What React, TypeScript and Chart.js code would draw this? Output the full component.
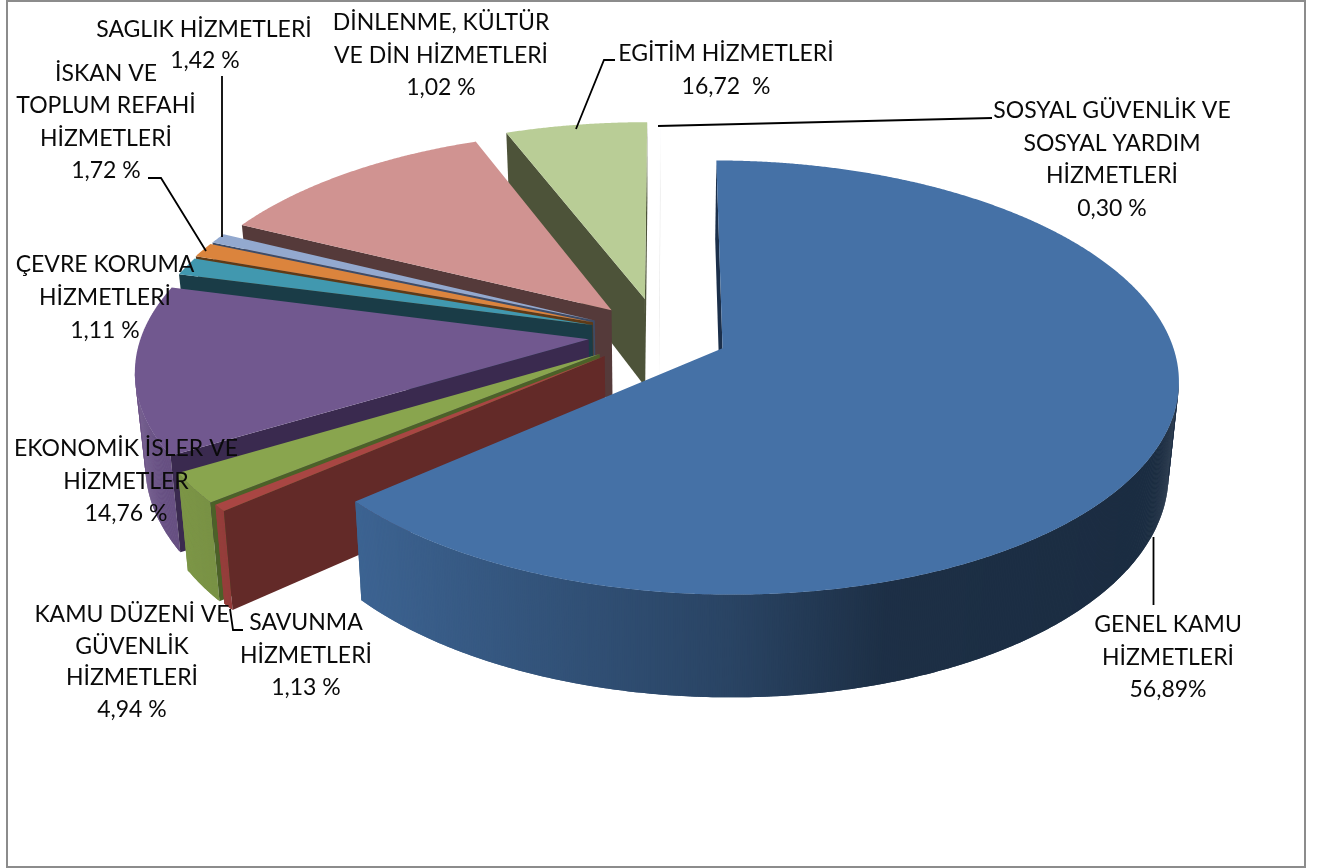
import React, { useEffect, useRef } from "react";
import { Chart, registerables } from "chart.js";

Chart.register(...registerables);

// Slice names, in drawing order round the pie
const categories = [
  "GENEL KAMU HİZMETLERİ",
  "SAVUNMA HİZMETLERİ",
  "KAMU DÜZENİ VE GÜVENLİK HİZMETLERİ",
  "EKONOMİK İSLER VE HİZMETLER",
  "ÇEVRE KORUMA HİZMETLERİ",
  "İSKAN VE TOPLUM REFAHİ HİZMETLERİ",
  "SAGLIK HİZMETLERİ",
  "DİNLENME, KÜLTÜR VE DİN HİZMETLERİ",
  "EGİTİM HİZMETLERİ",
  "SOSYAL GÜVENLİK VE SOSYAL YARDIM HİZMETLERİ",
];

// Slice sizes as they appear in the picture (share of the circle, %)
const sliceShares = [63.56, 0.5, 2.28, 12.69, 1.36, 1.11, 0.78, 11.81, 5.89, 0.03];

// Explosion of every slice (px on the library's 300px radius)
const sliceOffsets = [46.5, 47, 48, 47.5, 47, 48, 48, 48, 53, 48];

const topColors = ["#4571A6", "#A94643", "#89A54E", "#71588F", "#4198AF", "#DB843D", "#93A9CF", "#D09391", "#B9CD96", "#FDFDFF"];
const cutColors = ["#1B2F4A", "#632A28", "#4C6128", "#3A2A4F", "#1A3C47", "#5E3A17", "#3D4C68", "#553A3A", "#4D5339", "#E4E4E4"];

// Printed labels
const labelLines = [
  ["GENEL KAMU", "HİZMETLERİ", "56,89%"],
  ["SAVUNMA", "HİZMETLERİ", "1,13 %"],
  ["KAMU DÜZENİ VE", "GÜVENLİK", "HİZMETLERİ", "4,94 %"],
  ["EKONOMİK İSLER VE", "HİZMETLER", "14,76 %"],
  ["ÇEVRE KORUMA", "HİZMETLERİ", "1,11 %"],
  ["İSKAN VE", "TOPLUM REFAHİ", "HİZMETLERİ", "1,72 %"],
  ["SAGLIK HİZMETLERİ"],
  ["DİNLENME, KÜLTÜR", "VE DİN HİZMETLERİ", "1,02 %"],
  ["EGİTİM HİZMETLERİ", "16,72  %"],
  ["SOSYAL GÜVENLİK VE", "SOSYAL YARDIM", "HİZMETLERİ", "0,30 %"],
];
const extraLabel = { text: "1,42 %", x: 205, y: 68 };
const labelAnchors = [
  [1168, 632], [306, 630], [132, 622], [126, 456], [105, 272],
  [106, 81], [204, 37], [441, 30], [726, 61], [1112, 118],
];
const labelGaps = [32.5, 32.5, 31.7, 32.5, 33, 32.3, 32, 32.5, 33, 32.7];

const leaderLines = [
  [[1153.5, 537], [1153.5, 605]],
  [[230, 609], [233, 630], [243, 630]],
  [[148, 178], [161, 178], [206, 251]],
  [[222, 76], [222, 237]],
  [[576, 129], [604, 60], [615, 60]],
  [[658, 126], [992, 118]],
];

// Look of the tilted pie
const B = 447, A = 209.4, K = 0.1343, SHRINK = 0.98;
const paintOrder = [9, 8, 7, 6, 5, 4, 3, 2, 1, 0];

function project(x0: number, y0: number, u: number, v: number) {
  const w = 1 - K * v;
  return [x0 + (B * u) / w, y0 + (A * v) / w];
}
function projectBase(x0: number, y0: number, u: number, v: number) {
  const [x, y] = project(x0, y0, u, v);
  return [x0 + SHRINK * (x - x0), y + 90 + 12 * v];
}
function rimLight(c: number) {
  const xs = [-1, -0.7, 0, 0.3, 1];
  const ys = [0.95, 0.86, 0.6, 0.42, 0.39];
  for (let i = 1; i < xs.length; i++) {
    if (c <= xs[i]) return ys[i - 1] + ((c - xs[i - 1]) / (xs[i] - xs[i - 1])) * (ys[i] - ys[i - 1]);
  }
  return ys[ys.length - 1];
}
function shade(hex: string, f: number) {
  const n = parseInt(hex.slice(1), 16);
  const r = Math.round(((n >> 16) & 255) * f), g = Math.round(((n >> 8) & 255) * f), b = Math.round((n & 255) * f);
  return `rgb(${r},${g},${b})`;
}
function poly(ctx: CanvasRenderingContext2D, pts: number[][]) {
  ctx.beginPath();
  pts.forEach((p, i) => (i ? ctx.lineTo(p[0], p[1]) : ctx.moveTo(p[0], p[1])));
  ctx.closePath();
}
function leavesFace(from: number[], to: number[], inward: number[]) {
  const dx = to[0] - from[0], dy = to[1] - from[1];
  const crossDown = dx * 1;
  const crossIn = dx * (inward[1] - from[1]) - dy * (inward[0] - from[0]);
  return crossDown * crossIn < 0;
}

const tiltedPie = {
  id: "tiltedPie",
  beforeDatasetsDraw(chart: any) {
    const ctx: CanvasRenderingContext2D = chart.ctx;
    const arcs = chart.getDatasetMeta(0).data;
    ctx.save();
    ctx.fillStyle = "#ffffff";
    ctx.fillRect(0, 0, chart.width, chart.height);

    paintOrder.forEach((idx) => {
      const arc = arcs[idx];
      const { x: x0, y: y0, startAngle: a0, endAngle: a1, outerRadius: R } = arc;
      const mid = (a0 + a1) / 2;
      const e = (arc.options.offset || 0) / R;
      const cu = e * Math.cos(mid), cv = e * Math.sin(mid);
      const n = Math.max(4, Math.ceil(((a1 - a0) * 180 * 4) / Math.PI));
      const rim: number[][] = [];
      for (let i = 0; i <= n; i++) {
        const a = a0 + ((a1 - a0) * i) / n;
        rim.push([cu + Math.cos(a), cv + Math.sin(a), a]);
      }
      const topRim = rim.map((p) => project(x0, y0, p[0], p[1]));
      const baseRim = rim.map((p) => projectBase(x0, y0, p[0], p[1]));
      const apexTop = project(x0, y0, cu, cv);
      const apexBase = projectBase(x0, y0, cu, cv);
      const inner = project(x0, y0, cu + 0.4 * Math.cos(mid), cv + 0.4 * Math.sin(mid));

      // outer wall: front-facing part only, fine overlapping strips
      for (let i = 0; i < n; i++) {
        const j = Math.min(n, i + 2);
        if (!leavesFace(topRim[i], topRim[i + 1], apexTop)) continue;
        const f = idx === 9 ? 1 : rimLight(Math.cos(rim[i][2]));
        poly(ctx, [topRim[i], topRim[j], baseRim[j], baseRim[i]]);
        ctx.fillStyle = shade(topColors[idx], f);
        ctx.fill();
      }
      // cut faces that look at the viewer
      [[topRim[0], baseRim[0]], [topRim[n], baseRim[n]]].forEach(([t, b]) => {
        if (!leavesFace(apexTop, t, inner)) return;
        poly(ctx, [apexTop, t, b, apexBase]);
        ctx.fillStyle = cutColors[idx];
        ctx.fill();
      });
      // top face
      poly(ctx, [apexTop, ...topRim]);
      ctx.fillStyle = topColors[idx];
      ctx.fill();
    });
    ctx.restore();
    return false;
  },
  afterDraw(chart: any) {
    const ctx: CanvasRenderingContext2D = chart.ctx;
    ctx.save();
    // outer frame
    ctx.strokeStyle = "#8C8C8C";
    ctx.lineWidth = 2;
    ctx.strokeRect(7, 1, 1298, 866);
    // leader lines
    ctx.strokeStyle = "#000000";
    ctx.lineWidth = 1.8;
    leaderLines.forEach((l) => {
      ctx.beginPath();
      l.forEach((p, i) => (i ? ctx.lineTo(p[0], p[1]) : ctx.moveTo(p[0], p[1])));
      ctx.stroke();
    });
    // labels
    ctx.fillStyle = "#0A0A0A";
    ctx.font = "23px Lato";
    ctx.textAlign = "center";
    ctx.textBaseline = "alphabetic";
    labelLines.forEach((lines, i) => {
      const [x, y] = labelAnchors[i];
      lines.forEach((t, j) => ctx.fillText(t, x, y + j * labelGaps[i]));
    });
    ctx.fillText(extraLabel.text, extraLabel.x, extraLabel.y);
    ctx.restore();
  },
};

export default function App() {
  const ref = useRef<HTMLCanvasElement>(null);
  useEffect(() => {
    const chart = new Chart(ref.current as HTMLCanvasElement, {
      type: "pie",
      data: {
        labels: categories,
        datasets: [
          {
            data: sliceShares,
            backgroundColor: topColors,
            offset: sliceOffsets,
            borderWidth: 0,
          },
        ],
      },
      options: {
        responsive: false,
        animation: false,
        events: [],
        rotation: 0.2,
        radius: 300,
        layout: { padding: { left: 0, top: 0, right: 4, bottom: 199 } },
        plugins: { legend: { display: false }, tooltip: { enabled: false } },
      } as any,
      plugins: [tiltedPie as any],
    });
    return () => chart.destroy();
  }, []);
  return (
    <div style={{ position: "absolute", left: 0, top: 0, width: 1322, height: 868, background: "#fff" }}>
      <canvas ref={ref} width={1322} height={868} style={{ display: "block" }} />
    </div>
  );
}
